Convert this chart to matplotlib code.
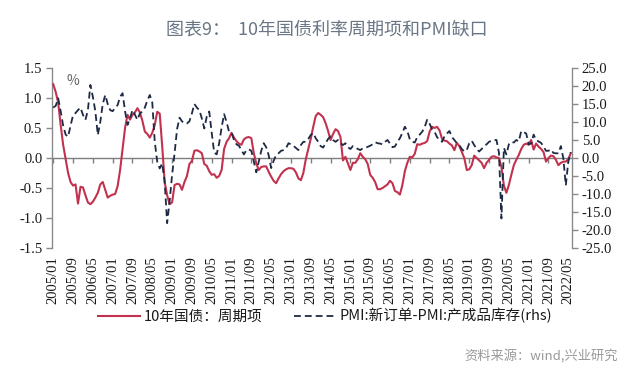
import numpy as np
import pandas as pd
import matplotlib
matplotlib.use("Agg")
import matplotlib.pyplot as plt
from matplotlib.lines import Line2D
from matplotlib.transforms import blended_transform_factory
from matplotlib.font_manager import FontProperties

plt.rcParams['font.family'] = ['Noto Sans CJK SC', 'DejaVu Sans']

months = pd.date_range("2005-01-01", "2022-06-01", freq="MS").strftime("%Y/%m").tolist()

bond_cycle = [
    1.23, 1.10, 0.92, 0.55, 0.22, -0.02, -0.25, -0.40, -0.46, -0.44,
    -0.76, -0.48, -0.49, -0.62, -0.74, -0.77, -0.73, -0.66, -0.58, -0.44,
    -0.40, -0.53, -0.66, -0.63, -0.61, -0.60, -0.47, -0.20, 0.15, 0.50,
    0.72, 0.64, 0.72, 0.76, 0.83, 0.76, 0.62, 0.44, 0.40, 0.34,
    0.42, 0.55, 0.77, 0.74, 0.20, -0.40, -0.62, -0.77, -0.74, -0.45,
    -0.43, -0.44, -0.53, -0.40, -0.30, -0.10, -0.05, 0.12, 0.13, 0.11,
    0.08, -0.10, -0.13, -0.22, -0.28, -0.27, -0.33, -0.30, -0.20, 0.15,
    0.27, 0.33, 0.42, 0.34, 0.28, 0.24, 0.22, 0.31, 0.34, 0.35,
    0.33, 0.08, -0.09, -0.20, -0.15, -0.14, -0.14, -0.23, -0.31, -0.38,
    -0.42, -0.34, -0.27, -0.22, -0.19, -0.17, -0.17, -0.18, -0.24, -0.34,
    -0.37, -0.25, -0.02, 0.15, 0.32, 0.52, 0.70, 0.75, 0.72, 0.68,
    0.58, 0.45, 0.30, 0.40, 0.48, 0.45, 0.35, -0.04, 0.02, -0.09,
    -0.20, -0.08, -0.08, -0.02, 0.08, 0.02, -0.02, -0.10, -0.28, -0.33,
    -0.40, -0.52, -0.52, -0.50, -0.47, -0.44, -0.38, -0.42, -0.55, -0.57,
    -0.61, -0.45, -0.22, -0.08, 0.02, 0.01, 0.07, 0.23, 0.22, 0.24,
    0.25, 0.28, 0.44, 0.52, 0.50, 0.52, 0.46, 0.32, 0.29, 0.28,
    0.24, 0.21, 0.13, 0.25, 0.20, 0.10, 0.00, -0.20, -0.19, -0.12,
    0.04, 0.00, -0.04, -0.08, -0.17, -0.08, -0.03, 0.02, 0.03, 0.01,
    0.00, -0.15, -0.46, -0.58, -0.45, -0.28, -0.12, -0.03, 0.05, 0.15,
    0.22, 0.24, 0.22, 0.30, 0.14, 0.24, 0.19, 0.15, 0.10, -0.06,
    0.00, 0.04, 0.03, -0.03, -0.12, -0.08, -0.06, -0.06, -0.02, 0.08,
]

pmi_gap = [
    14.0, 14.5, 16.6, 13.0, 9.0, 6.5, 5.9, 9.0, 11.9, 12.5,
    13.3, 14.0, 12.0, 10.6, 13.3, 20.3, 17.0, 13.0, 6.4, 10.0,
    15.0, 17.5, 15.0, 13.3, 13.0, 14.0, 14.7, 17.0, 18.0, 13.0,
    9.2, 11.0, 13.3, 12.0, 10.6, 12.4, 12.9, 14.0, 16.0, 17.5,
    15.4, 4.5, -1.0, -2.9, -1.5, -6.6, -18.1, -12.0, -4.7, 1.3,
    8.0, 11.2, 10.2, 9.6, 9.6, 10.2, 12.4, 15.0, 14.0, 13.3,
    11.0, 8.2, 11.5, 12.9, 7.0, 1.5, 1.0, 4.1, 8.5, 12.2,
    10.0, 7.3, 7.0, 5.0, 3.8, 3.4, 2.2, 1.0, 2.2, 2.4,
    2.0, -1.0, -4.0, -1.0, 2.0, 4.1, 3.0, 0.8, -2.8, -0.8,
    0.8, 1.3, 2.0, 2.2, 2.7, 4.1, 3.8, 3.4, 2.8, 2.2,
    3.6, 4.5, 4.5, 5.3, 6.4, 6.9, 5.5, 4.5, 3.3, 2.9,
    4.1, 5.3, 6.0, 5.0, 4.5, 5.0, 4.1, 3.6, 4.1, 3.0,
    2.5, 3.3, 3.0, 2.5, 2.2, 2.7, 2.8, 3.1, 3.4, 3.8,
    4.4, 4.1, 4.0, 3.8, 4.5, 5.0, 4.0, 3.0, 3.2, 4.5,
    5.5, 7.0, 8.7, 7.5, 5.2, 4.5, 4.3, 5.8, 6.5, 7.3,
    8.6, 10.6, 9.5, 8.0, 7.3, 5.8, 5.0, 4.5, 6.0, 6.8,
    7.5, 5.8, 5.0, 4.1, 3.5, 2.5, 1.8, 2.2, 4.1, 4.8,
    3.6, 2.5, 1.8, 2.5, 3.2, 3.8, 4.5, 4.8, 5.0, 5.0,
    1.5, -16.8, 2.8, 1.0, 3.8, 4.5, 4.3, 5.0, 4.6, 7.5,
    7.2, 6.8, 3.8, 4.0, 6.5, 5.0, 4.6, 4.2, 3.2, 2.0,
    2.0, 2.4, 1.4, 1.3, 1.3, 3.3, -0.1, -7.6, -1.0, 1.6,
]

tick_labels = ["2005/01", "2005/09", "2006/05", "2007/01", "2007/09", "2008/05",
               "2009/01", "2009/09", "2010/05", "2011/01", "2011/09", "2012/05",
               "2013/01", "2013/09", "2014/05", "2015/01", "2015/09", "2016/05",
               "2017/01", "2017/09", "2018/05", "2019/01", "2019/09", "2020/05",
               "2021/01", "2021/09", "2022/05"]

left_ticks = [-1.5, -1.0, -0.5, 0.0, 0.5, 1.0, 1.5]
right_ticks = [-25, -20, -15, -10, -5, 0, 5, 10, 15, 20, 25]

red = '#c2324f'
navy = '#1e2a45'
axis_gray = '#8a8a8a'

serif_fp = FontProperties(family=['Liberation Serif', 'DejaVu Serif'], size=10.5)

fig = plt.figure(figsize=(6.4, 3.84), dpi=100)
ax = fig.add_axes([52/640, 1-248/384, 520/640, 180/384])
ax2 = ax.twinx()

x = np.arange(len(months))
ax.plot(x, bond_cycle, color=red, lw=1.5, zorder=3)
ax2.plot(x, pmi_gap, color=navy, lw=1.3, dashes=(3.8, 2.2), zorder=2)

ax.set_xlim(-0.5, len(months) - 0.5)
ax.set_ylim(-1.5, 1.5)
ax2.set_ylim(-25, 25)
ax.set_yticks(left_ticks)
ax.set_yticklabels([f"{v:.1f}" for v in left_ticks], fontproperties=serif_fp)
ax2.set_yticks(right_ticks)
ax2.set_yticklabels([f"{v:.1f}" for v in right_ticks], fontproperties=serif_fp)

for a in (ax, ax2):
    for s in ('top', 'bottom'):
        a.spines[s].set_visible(False)
    a.spines['left'].set_color(axis_gray)
    a.spines['right'].set_color(axis_gray)
    a.spines['left'].set_linewidth(1.0)
    a.spines['right'].set_linewidth(1.0)
ax.spines['right'].set_visible(False)
ax2.spines['left'].set_visible(False)

for a in (ax, ax2):
    a.tick_params(axis='y', length=4, width=1.0, color=axis_gray,
                  labelcolor='#1a1a1a', pad=3)

# x ticks: no bottom spine, ticks placed on zero line
ax.set_xticks([])
ax.axhline(0, color='#7f7f7f', lw=1.0, zorder=1)
pos = [months.index(t) for t in tick_labels]
ax.plot(pos, [0] * len(pos), linestyle='none', marker=3, markersize=3.5,
        color='#7f7f7f', mew=1.0, zorder=1)

trans = blended_transform_factory(ax.transData, ax.transAxes)
for p, t in zip(pos, tick_labels):
    ax.text(p, -0.045, t, rotation=90, ha='center', va='top', transform=trans,
            fontproperties=serif_fp, color='#1a1a1a')

ax.text(0.028, 0.93, '%', transform=ax.transAxes, fontsize=10, color='#666666',
        ha='left', va='center')

fig.text(0.51, 1 - 30/384, '图表9：  10年国债利率周期项和PMI缺口', ha='center', va='center',
         fontsize=13, color='#6a7685')

handles = [Line2D([], [], color=red, lw=1.5),
           Line2D([], [], color=navy, lw=1.3, dashes=(3.8, 2.2))]
fig.legend(handles, ['10年国债：周期项', 'PMI:新订单-PMI:产成品库存(rhs)'],
           loc='center', bbox_to_anchor=(0.508, 1 - 316/384), ncol=2, frameon=False,
           fontsize=10.5, handlelength=2.9, handletextpad=0.2, columnspacing=2.2,
           labelcolor='#1a1a1a')

fig.text(618/640, 1 - 356/384, '资料来源：wind,兴业研究', ha='right', va='center',
         fontsize=9.5, color='#9a9a9a')

fig.savefig('out.png', dpi=100)
